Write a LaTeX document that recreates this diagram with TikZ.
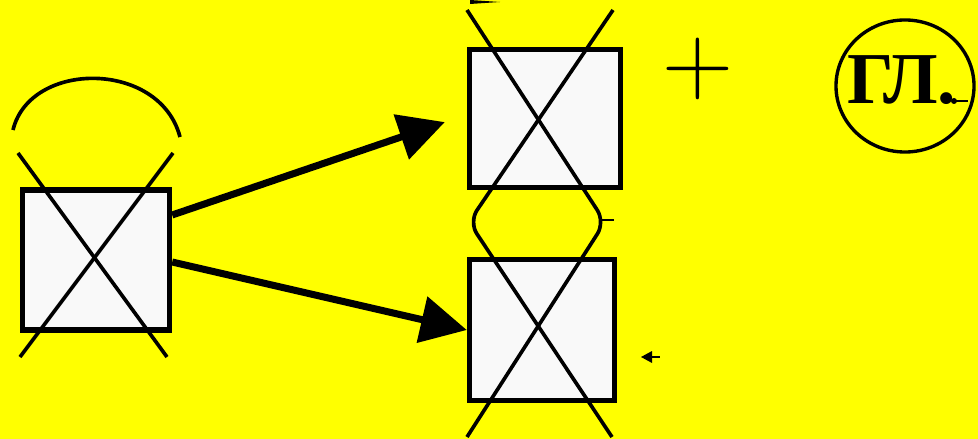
\documentclass[tikz,border=0pt]{standalone}
\usepackage{fontspec}
\newfontfamily\cyrfont{Liberation Serif}
\usetikzlibrary{arrows.meta,shapes.geometric}
\definecolor{pagebg}{RGB}{255,255,0}

\begin{document}
\begin{tikzpicture}[x=0.025cm, y=-0.025cm,
  cell/.style={draw, line width=3.8pt, fill=gray!5, inner sep=0pt},
  bond/.style={line width=2.6pt, line join=round},
  push/.style={line width=5pt, -{Triangle[length=1.15cm, width=1.15cm]}},
  ring/.style={draw, ellipse, line width=2.4pt, inner sep=0pt},
  ]
  \fill[pagebg] (0,0) rectangle (978,439);
  \useasboundingbox (0,0) rectangle (978,439);

  % the three cells
  \node[cell, minimum width=3.675cm, minimum height=3.5cm] (src) at (96,260) {};
  \node[cell, minimum width=3.775cm, minimum height=3.45cm] (top) at (545,118.5) {};
  \node[cell, minimum width=3.625cm, minimum height=3.525cm] (bot) at (542,330) {};

  % crossing bonds
  \draw[bond] (18,153) -- (167,357);
  \draw[bond] (173,153) -- (20,357);
  \draw[bond] (13,130) .. controls (30,60) and (160,60) .. (180,137);
  \draw[bond, rounded corners=10] (467,10) -- (605,222) -- (467,437);
  \draw[bond, rounded corners=10] (613,10) -- (469,222) -- (612,437);

  % arrows
  \draw[push] ([yshift=1.125cm]src.east) -- ([xshift=-0.55cm, yshift=-0.09cm]top.west);
  \draw[push] ([yshift=-0.05cm]src.east) -- (bot.west);

  % plus and label
  \node[font=\fontsize{70}{70}\selectfont, inner sep=0pt] (plus) at (698,69) {+};
  \node[ring, minimum width=3.45cm, minimum height=3.3cm] (gl) at (905,86) {};
  \node[font=\cyrfont\bfseries\fontsize{52}{52}\selectfont, inner sep=0pt] (gltext) at (902,80) {ГЛ.};

  % stray marks
  \fill (470,0) -- (500,2) -- (470,4) -- cycle;
  \fill (641,357) -- (652,351) -- (652,363) -- cycle;
  \draw[line width=1.5pt] (650,357) -- (660,357);
  \draw[line width=1.5pt] (954,101) -- (968,101);
  \fill (954,101) circle [radius=3];
  \draw[line width=1.5pt] (600,220) -- (614,220);
\end{tikzpicture}
\end{document}
